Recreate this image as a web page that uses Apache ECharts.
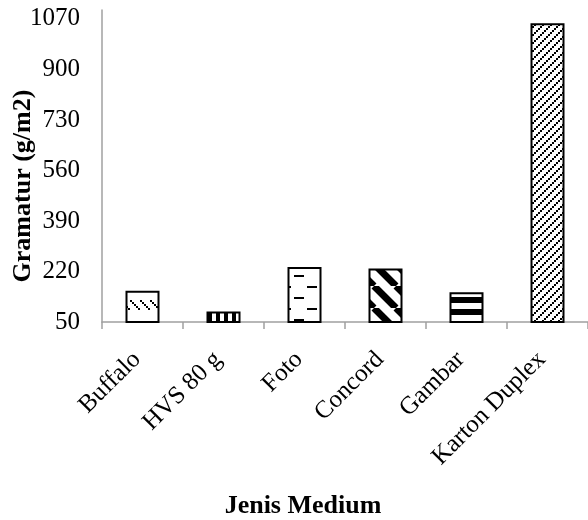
<!DOCTYPE html>
<html>
<head>
<meta charset="utf-8">
<script src="https://cdn.jsdelivr.net/npm/echarts@6/dist/echarts.min.js"></script>
<style>
  html, body { margin: 0; padding: 0; background: #fff; }
  #chart { width: 588px; height: 520px; }
</style>
</head>
<body>
<div id="chart"></div>
<script>
// Paper grammage by medium
const categories = ['Buffalo', 'HVS 80 g', 'Foto', 'Concord', 'Gambar', 'Karton Duplex'];
const gramatur = [155, 85, 235, 230, 150, 1055];
const yTicks = [50, 220, 390, 560, 730, 900, 1070];

const FONT = '"Liberation Serif", "Times New Roman", serif';

// Small repeating black-and-white tiles used as bar fills
function tile(w, h, draw) {
  const c = document.createElement('canvas');
  c.width = w; c.height = h;
  const g = c.getContext('2d');
  g.fillStyle = '#fff';
  g.fillRect(0, 0, w, h);
  g.fillStyle = '#000';
  g.strokeStyle = '#000';
  draw(g, w, h);
  return c;
}

const fills = [
  // dotted downward diagonal dashes
  tile(10, 24, g => { for (let i = 0; i < 5; i++) g.fillRect(i * 2, 12 + i * 2, 2, 2); }),
  // wide vertical stripes
  tile(8, 1, g => g.fillRect(0, 0, 4, 1)),
  // staggered horizontal dashes
  tile(26, 22, g => { g.fillRect(0, 0, 5, 2); g.fillRect(21, 0, 5, 2); g.fillRect(8, 11, 10, 2); }),
  // wide downward diagonal
  tile(22, 22, g => {
    g.lineWidth = 7;
    g.beginPath();
    for (const k of [-22, 0, 22]) { g.moveTo(k, 0); g.lineTo(k + 22, 22); }
    g.stroke();
  }),
  // wide horizontal stripes
  tile(1, 12, g => { g.fillRect(0, 9, 1, 3); g.fillRect(0, 0, 1, 3); }),
  // dotted upward diagonal
  tile(8, 8, g => { for (let i = 0; i < 4; i++) g.fillRect(i * 2, 6 - i * 2, 2, 2); })
];

const chart = echarts.init(document.getElementById('chart'), null, { renderer: 'canvas' });

chart.setOption({
  backgroundColor: '#fff',
  animation: false,
  grid: { left: 102, right: -3, top: 10, bottom: 198, containLabel: false },
  xAxis: {
    type: 'category',
    data: categories,
    axisLine: { lineStyle: { color: '#a0a0a0', width: 1.5 } },
    axisTick: { show: true, length: 7, lineStyle: { color: '#a0a0a0', width: 1.5 } },
    axisLabel: {
      rotate: 45,
      margin: 28,
      padding: [0, 8, 0, 0],
      color: '#000',
      fontFamily: FONT,
      fontSize: 25,
      interval: 0
    }
  },
  yAxis: {
    type: 'value',
    min: yTicks[0],
    max: 1100,
    interval: yTicks[1] - yTicks[0],
    splitLine: { show: false },
    axisTick: { show: false },
    axisLine: { show: true, lineStyle: { color: '#a0a0a0', width: 1.5 } },
    axisLabel: {
      showMaxLabel: false,
      margin: 22,
      color: '#000',
      fontFamily: FONT,
      fontSize: 25,
      padding: [8, 0, 0, 0],
      formatter: v => (yTicks.includes(v) ? String(v) : '')
    }
  },
  series: [{
    type: 'bar',
    barWidth: 34,
    data: gramatur.map((v, i) => ({
      value: v,
      itemStyle: {
        color: { image: fills[i], repeat: 'repeat' },
        borderColor: '#000',
        borderWidth: 2
      }
    }))
  }],
  graphic: [
    {
      type: 'text',
      x: 23, y: 186,
      rotation: Math.PI / 2,
      style: {
        text: 'Gramatur (g/m2)',
        fontFamily: FONT, fontSize: 26, fontWeight: 'bold', fill: '#000',
        align: 'center', verticalAlign: 'middle'
      }
    },
    {
      type: 'text',
      x: 303, y: 506,
      style: {
        text: 'Jenis Medium',
        fontFamily: FONT, fontSize: 26, fontWeight: 'bold', fill: '#000',
        align: 'center', verticalAlign: 'middle'
      }
    }
  ]
});
</script>
</body>
</html>
